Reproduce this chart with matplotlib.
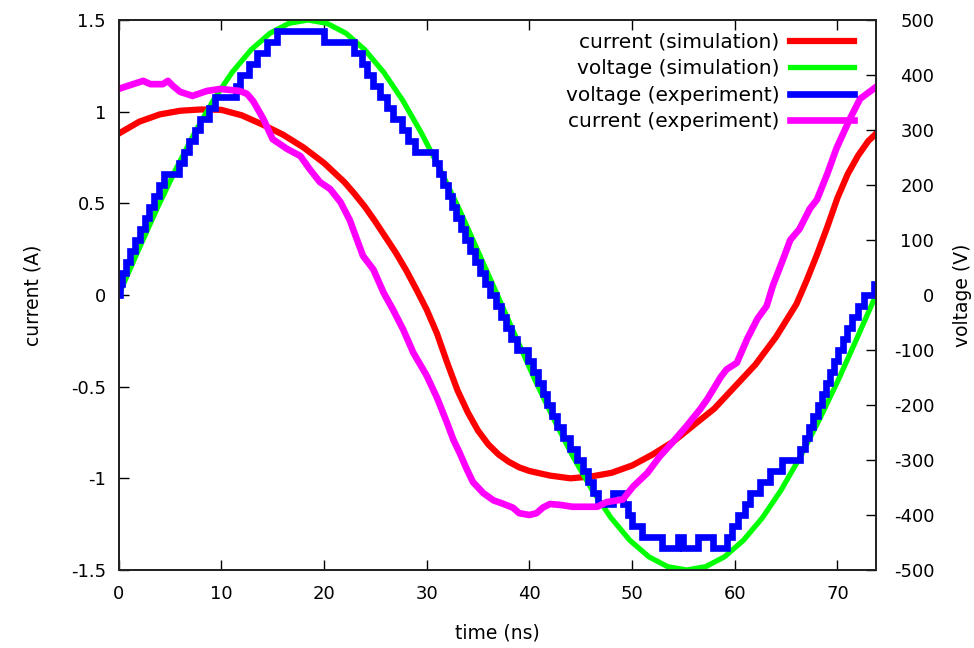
import matplotlib
matplotlib.use("Agg")
import matplotlib.pyplot as plt
from matplotlib.ticker import FuncFormatter

plt.rcParams['font.family'] = ['DejaVu Sans']
plt.rcParams['axes.unicode_minus'] = False

# simulation: voltage (V)
sim_v_t = [0, 1.84, 3.69, 5.53, 7.38, 9.22, 11.06, 12.91, 14.75, 16.59, 18.44,
           20.28, 22.13, 23.97, 25.81, 27.66, 29.5, 31.34, 33.19, 35.03, 36.88,
           38.72, 40.56, 42.41, 44.25, 46.09, 47.94, 49.78, 51.63, 53.47, 55.31,
           57.16, 59.0, 60.84, 62.69, 64.53, 66.38, 68.22, 70.06, 71.91, 73.75]
sim_v = [0, 78, 155, 227, 294, 354, 405, 446, 476, 494, 500,
         494, 476, 446, 405, 354, 294, 227, 155, 78, 0,
         -78, -155, -227, -294, -354, -405, -446, -476, -494, -500,
         -494, -476, -446, -405, -354, -294, -227, -155, -78, 0]

# simulation: current (A)
sim_i_t = [0, 2, 4, 6, 8, 10, 12, 14, 16, 18, 20, 22, 23, 24, 25, 26, 27, 28, 29,
           30, 31, 32, 33, 34, 35, 36, 37, 38, 39, 40, 42, 44, 46, 48, 50, 52, 54,
           56, 58, 60, 62, 64, 66, 67, 68, 69, 70, 71, 72, 73, 73.75]
sim_i = [0.88, 0.945, 0.985, 1.005, 1.012, 1.01, 0.98, 0.93, 0.875, 0.805, 0.72,
         0.615, 0.55, 0.48, 0.40, 0.315, 0.23, 0.135, 0.03, -0.08, -0.21, -0.37,
         -0.52, -0.64, -0.74, -0.815, -0.87, -0.91, -0.94, -0.96, -0.985, -1.0,
         -0.99, -0.97, -0.93, -0.87, -0.80, -0.71, -0.62, -0.50, -0.38, -0.23,
         -0.05, 0.08, 0.22, 0.37, 0.53, 0.66, 0.76, 0.84, 0.88]

# experiment: voltage (V), level changes
exp_v_t = [0, 0.1, 0.33, 0.72, 1.14, 1.63, 2.12, 2.6, 2.99, 3.41, 3.9, 4.39,
           5.85, 6.34, 6.82, 7.47, 7.96, 8.77, 9.42, 11.43, 11.85, 12.66, 13.47,
           14.45, 15.42, 19.97, 22.9, 23.67, 24.16, 24.8, 25.45, 26.1, 26.75,
           27.56, 28.2, 28.86, 30.81, 31.23, 31.62, 32.04, 32.43, 32.85, 33.31,
           33.73, 34.22, 34.7, 35.19, 35.68, 36.16, 36.72, 37.2, 37.72, 38.21,
           38.76, 39.9, 40.38, 40.87, 41.29, 41.74, 42.17, 42.66, 43.3, 43.95,
           44.6, 45.25, 45.74, 46.22, 46.71, 48.17, 49.14, 49.63, 49.96, 50.93,
           52.88, 54.5, 54.99, 56.45, 57.9, 59.21, 59.7, 60.34, 60.99, 61.48,
           62.45, 63.43, 64.57, 66.35, 66.83, 67.26, 67.65, 68.07, 68.46, 68.88,
           69.27, 69.66, 70.08, 70.5, 70.9, 71.38, 72.03, 72.58, 73.55, 73.75]
exp_v = [0, 20, 40, 60, 80, 100, 120, 140, 160, 180, 200, 220,
         240, 260, 280, 300, 320, 340, 360, 380, 400, 420, 440,
         460, 480, 460, 440, 420, 400, 380, 360, 340, 320,
         300, 280, 260, 240, 220, 200, 180, 160, 140, 120,
         100, 80, 60, 40, 20, 0, -20, -40, -60, -80,
         -100, -120, -140, -160, -180, -200, -220, -240, -260, -280,
         -300, -320, -340, -360, -380, -360, -380, -400, -420, -440,
         -460, -440, -460, -440, -460, -440, -420, -400, -380, -360,
         -340, -320, -300, -280, -260, -240, -220, -200, -180, -160,
         -140, -120, -100, -80, -60, -40, -20, 0, 20, 20]

# experiment: current (A)
exp_i_t = [0, 1.4, 2.4, 3.1, 4.3, 4.8, 5.3, 6.0, 7.2, 8.6, 9.9, 11.8, 12.5, 13.1,
           14.1, 15.0, 16.4, 17.7, 18.6, 19.6, 20.6, 21.6, 22.5, 23.8, 24.8, 25.8,
           26.7, 27.7, 28.7, 30.0, 31.0, 32.0, 32.6, 33.2, 33.9, 34.5, 35.5, 36.5,
           37.5, 38.4, 39.0, 40.0, 40.7, 41.3, 42.0, 43.0, 44.2, 46.6, 47.5, 49.1,
           50.1, 51.5, 52.7, 54.0, 55.3, 56.6, 57.3, 57.9, 58.6, 59.2, 60.2, 61.2,
           62.2, 63.1, 63.7, 64.7, 65.4, 66.3, 67.3, 68.0, 69.0, 69.9, 71.2, 72.2,
           73.4, 73.75]
exp_i = [1.124, 1.15, 1.168, 1.15, 1.15, 1.168, 1.14, 1.108, 1.086, 1.113, 1.124,
         1.113, 1.097, 1.058, 0.96, 0.85, 0.797, 0.758, 0.687, 0.616, 0.578, 0.507,
         0.41, 0.213, 0.14, 0.013, -0.078, -0.187, -0.315, -0.44, -0.56, -0.70,
         -0.79, -0.86, -0.95, -1.02, -1.08, -1.12, -1.14, -1.16, -1.19, -1.2,
         -1.19, -1.16, -1.14, -1.145, -1.155, -1.155, -1.13, -1.115, -1.045, -0.97,
         -0.88, -0.80, -0.715, -0.625, -0.57, -0.515, -0.45, -0.406, -0.37, -0.24,
         -0.13, -0.06, 0.05, 0.195, 0.30, 0.36, 0.47, 0.52, 0.66, 0.80, 0.96, 1.07,
         1.12, 1.135]

fig = plt.figure(figsize=(9.74, 6.48), dpi=100)
ax = fig.add_axes([118.6 / 974, 1 - 570 / 648, 757.4 / 974, 550 / 648])
ax2 = ax.twinx()

l1, = ax.plot(sim_i_t, sim_i, color='#ff0000', lw=4.5, label='current (simulation)')
l2, = ax2.plot(sim_v_t, sim_v, color='#00ff00', lw=3.8, label='voltage (simulation)')
l3, = ax2.plot(exp_v_t, exp_v, color='#0000ff', lw=4.8, drawstyle='steps-post',
               solid_joinstyle='miter', label='voltage (experiment)')
l4, = ax2.plot(exp_i_t, exp_i, color='#ff00ff', lw=4.8, transform=ax.transData,
               label='current (experiment)')

ax.set_xlim(0, 73.75)
ax.set_ylim(-1.5, 1.5)
ax2.set_ylim(-500, 500)
ax.set_xticks(range(0, 71, 10))
ax.set_yticks([-1.5, -1, -0.5, 0, 0.5, 1, 1.5])
ax2.set_yticks(range(-500, 501, 100))
ax.yaxis.set_major_formatter(FuncFormatter(lambda v, p: '%g' % v))

ax.tick_params(axis='x', direction='in', top=True, length=7, width=1,
               labelsize=13, pad=11)
ax.tick_params(axis='y', direction='in', length=7, width=1, labelsize=13, pad=9)
ax2.tick_params(axis='y', direction='in', length=7, width=1, labelsize=13, pad=42)
for lab in ax2.get_yticklabels():
    lab.set_horizontalalignment('right')

for a in (ax, ax2):
    for s in a.spines.values():
        s.set_linewidth(1.3)
        s.set_color('#222222')

ax.set_xlabel('time (ns)', fontsize=13.5, va='center')
ax.set_ylabel('current (A)', fontsize=13.5, va='center')
ax2.set_ylabel('voltage (V)', fontsize=13.5, va='center')
ax.xaxis.set_label_coords(0.5, -0.1145)
ax.yaxis.set_label_coords(-0.113, 0.5)
ax2.yaxis.set_label_coords(1.1136, 0.5)

ax2.legend(handles=[l1, l2, l3, l4], loc='upper right', frameon=False,
           markerfirst=False, fontsize=14.5, handlelength=3.2, handletextpad=0.5,
           labelspacing=0.37, borderpad=0, borderaxespad=0,
           bbox_to_anchor=(854 / 974, 1 - 33 / 648),
           bbox_transform=fig.transFigure)

fig.savefig('out.png', dpi=100)
